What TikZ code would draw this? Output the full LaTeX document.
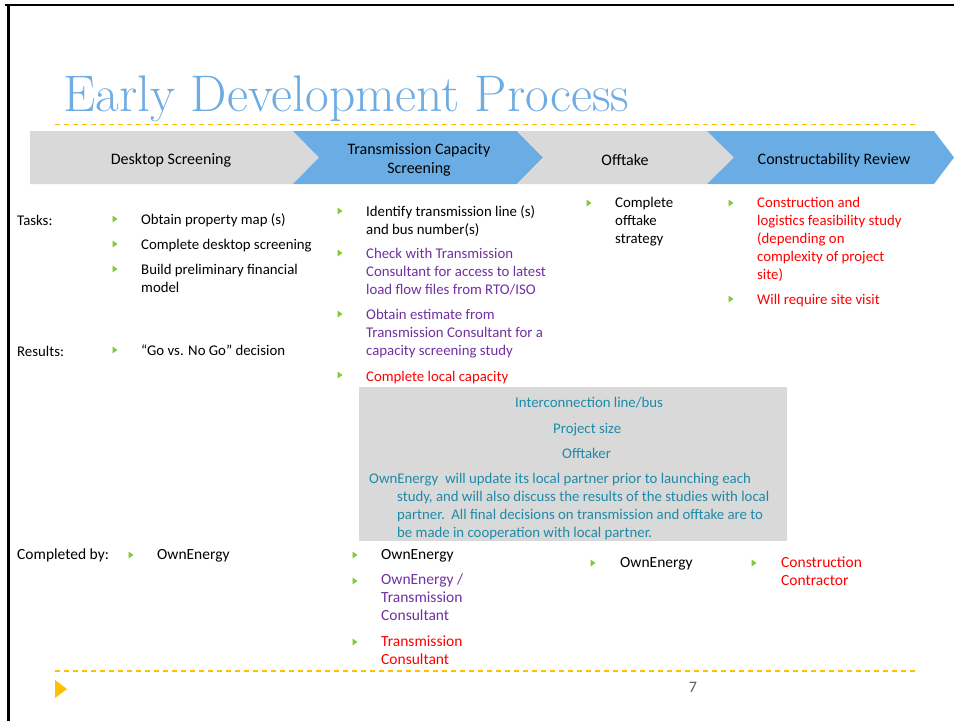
\documentclass[tikz,border=0pt]{standalone}
\usepackage{fontspec}
\newfontfamily\slidefont{Carlito}
\definecolor{chevblue}{RGB}{106,173,228}
\definecolor{chevgrey}{RGB}{217,217,217}
\definecolor{titleblue}{RGB}{110,172,226}
\definecolor{ruleyellow}{RGB}{255,192,0}
\definecolor{bulgreen}{RGB}{122,204,56}
\definecolor{tpurple}{RGB}{112,48,160}
\definecolor{tred}{RGB}{255,0,0}
\definecolor{tteal}{RGB}{30,138,168}
\definecolor{pagegrey}{RGB}{81,92,110}
\tikzset{
  rule/.style={ruleyellow, line width=1.2pt, dash pattern=on 5pt off 4pt},
  phase/.style={inner sep=0pt, align=center, font=\slidefont\fontsize{16}{19}\selectfont},
  item/.style={anchor=north west, inner sep=0pt, align=left,
    font=\slidefont\fontsize{14.8}{18}\selectfont, execute at begin node=\strut},
  who/.style={item, font=\slidefont\fontsize{15.5}{18}\selectfont}
}
\begin{document}
\begin{tikzpicture}[x=1pt,y=-1pt]
\useasboundingbox (0,0) rectangle (954,721);
\draw[line width=2.5pt] (5,5) -- (954,5);
\draw[line width=3pt] (8,4) -- (8,721);
\node[anchor=base west, inner sep=0pt, text=titleblue, font=\fontsize{51.5}{55}\selectfont] (title) at (63,111) {Early Development Process};
\draw[rule] (55,124.5) -- (919,124.5);
\draw[rule] (55,671) -- (919,671);
\fill[ruleyellow] (55,680) -- (67,689) -- (55,698) -- cycle;
\node[inner sep=0pt, text=pagegrey, font=\slidefont\fontsize{16}{18}\selectfont] (page) at (693,687) {7};
% phases
\fill[chevgrey] (30,131) -- (293,131) -- (319,157.5) -- (293,184) -- (30,184) -- cycle;
\fill[chevblue] (293,131) -- (517,131) -- (543,157.5) -- (517,184) -- (293,184) -- (319,157.5) -- cycle;
\fill[chevgrey] (517,131) -- (707,131) -- (734,157.5) -- (707,184) -- (517,184) -- (543,157.5) -- cycle;
\fill[chevblue] (707,131) -- (934,131) -- (954,157.5) -- (934,184) -- (707,184) -- (734,157.5) -- cycle;
\node[phase] (desk) at (171,160) {Desktop Screening};
\node[phase] (trans) at (419,160) {Transmission Capacity\\Screening};
\node[phase] (offt) at (625,160) {Offtake};
\node[phase] (constr) at (834,160) {Constructability Review};
% row labels
\node[item] (tasks) at (17,213) {Tasks:};
\node[item] (results) at (17,344) {Results:};
\node[who] (doneby) at (17,547) {Completed by:};
% bullets
\foreach \x/\y in {115/219,115/244,115/269,115/350,340/211,340/253,340/314,340/375,
    589/203,731/203,731/299,488/403,526/429,535/453,131/555,355/555,355/581,355/642,593/563,754/563}
  \fill[bulgreen] (\x-2.5,\y-3.5) -- (\x+2.5,\y) -- (\x-2.5,\y+3.5) -- cycle;
% desktop screening
\node[item] (d1) at (141,212) {Obtain property map (s)};
\node[item] (d2) at (141,237) {Complete desktop screening};
\node[item] (d3) at (141,264) {Build preliminary financial\\model};
\node[item] (d4) at (141,343) {“Go vs. No Go” decision};
% transmission capacity screening
\node[item] (t1) at (366,205) {Identify transmission line (s)\\and bus number(s)};
\node[item, text=tpurple] (t2) at (366,248) {Check with Transmission\\Consultant for access to latest\\load flow files from RTO/ISO};
\node[item, text=tpurple] (t3) at (366,309) {Obtain estimate from\\Transmission Consultant for a\\capacity screening study};
\node[item, text=tred] (t4) at (366,369) {Complete local capacity};
\node[fill=chevgrey, anchor=north west, inner sep=0pt, minimum width=428, minimum height=154] (capbox) at (359,387) {};
\node[item, text=tteal] (b1) at (515,395) {Interconnection line/bus};
\node[item, text=tteal] (b2) at (553,421) {Project size};
\node[item, text=tteal] (b3) at (562,446) {Offtaker};
\node[item, text=tteal] (b4) at (369,473) {OwnEnergy\ \ will update its local partner prior to launching each\\
  \hspace*{28pt}study, and will also discuss the results of the studies with local\\
  \hspace*{28pt}partner.\ \ All final decisions on transmission and offtake are to\\
  \hspace*{28pt}be made in cooperation with local partner.};
% offtake
\node[item] (o1) at (615,197) {Complete\\offtake\\strategy};
% constructability
\node[item, text=tred] (r1) at (757,197) {Construction and\\logistics feasibility study\\(depending on\\complexity of project\\site)};
\node[item, text=tred] (r2) at (757,292) {Will require site visit};
% completed by
\node[who] (w1) at (157,547) {OwnEnergy};
\node[who] (w2) at (381,547) {OwnEnergy};
\node[who, text=tpurple] (w3) at (381,574) {OwnEnergy /\\Transmission\\Consultant};
\node[who, text=tred] (w4) at (381,636) {Transmission\\Consultant};
\node[who] (w5) at (620,555) {OwnEnergy};
\node[who, text=tred] (w6) at (781,557) {Construction\\Contractor};
\end{tikzpicture}
\end{document}
